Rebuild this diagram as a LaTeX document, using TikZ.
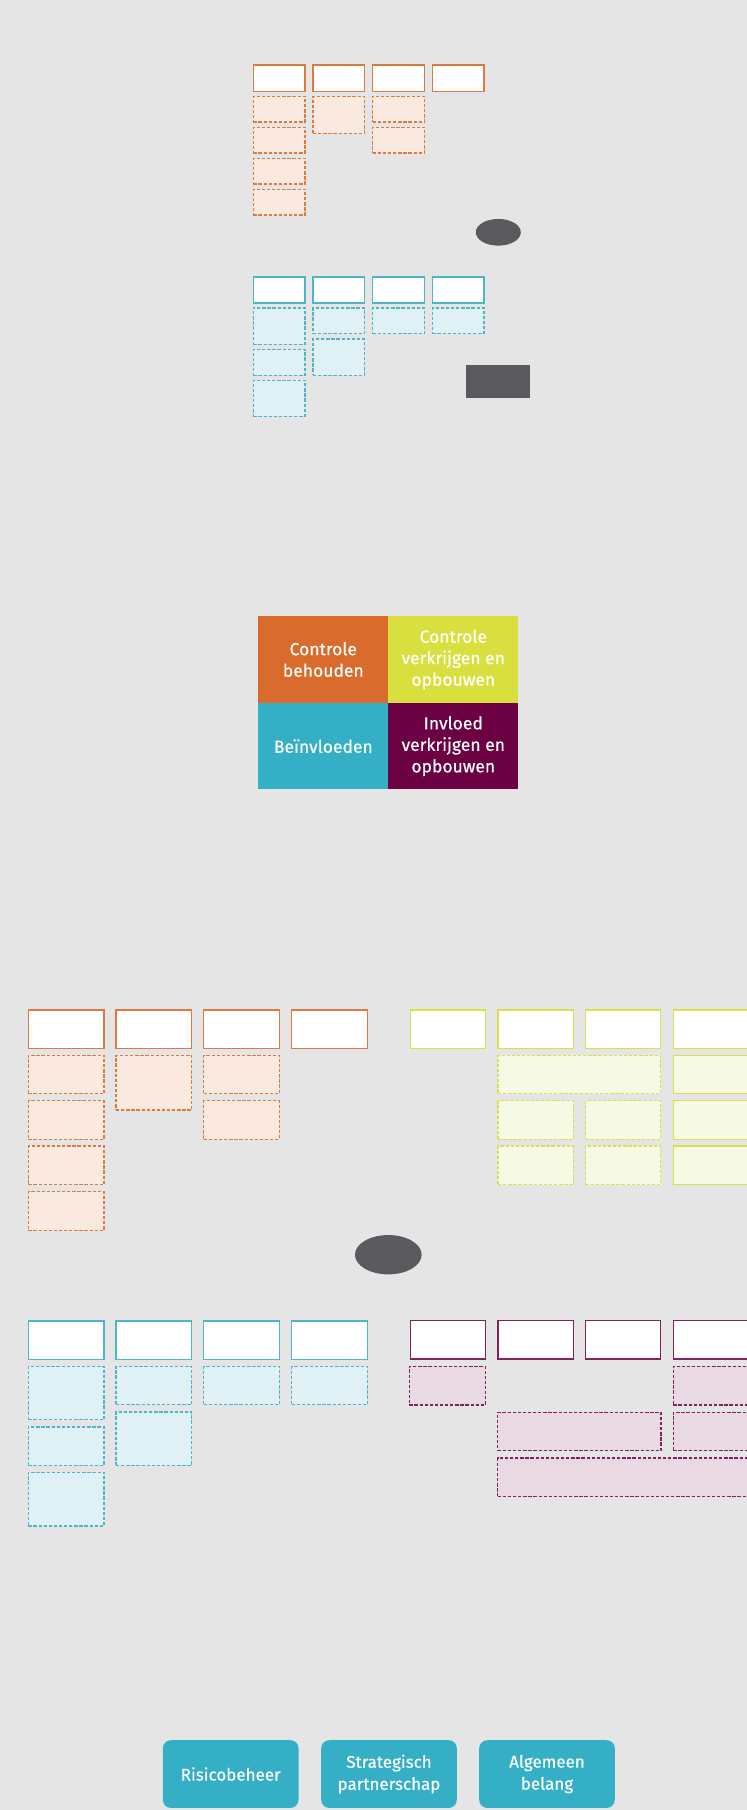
\documentclass[tikz,border=0pt]{standalone}
\usepackage{fontspec}
\setmainfont{Fira Sans}
\newfontfamily\labelfont[FakeBold=0.35]{Fira Sans}
\usetikzlibrary{shapes.geometric}
\definecolor{bg}{HTML}{E5E5E5}
\definecolor{cor}{HTML}{D96C2D}
\definecolor{corb}{HTML}{DD7A40}
\definecolor{corl}{HTML}{FAE9DF}
\definecolor{cte}{HTML}{35AFC5}
\definecolor{cteb}{HTML}{4BB6CA}
\definecolor{ctel}{HTML}{E0F1F5}
\definecolor{cye}{HTML}{D9DF3F}
\definecolor{cyeb}{HTML}{DADF4A}
\definecolor{cyel}{HTML}{F6F9E3}
\definecolor{cpu}{HTML}{6B0043}
\definecolor{cpub}{HTML}{852060}
\definecolor{cpul}{HTML}{E8D9E2}
\definecolor{cgr}{HTML}{5A5A5E}
\tikzset{
  base/.style={rectangle, inner sep=0pt, outer sep=0pt, anchor=north west},
  topbox/.style={base, fill=white, draw=#1, line width=1.5pt},
  dashbox/.style={base, fill=#1l, draw=#1b, line width=1.3pt, dash pattern=on 3.3pt off 1.8pt},
  solidlight/.style={base, fill=#1l, draw=#1b, line width=1.5pt},
  quad/.style={rectangle, inner sep=0pt, outer sep=0pt, anchor=north west, text=white,
    align=center, font=\labelfont\fontsize{17.5}{21.5}\selectfont},
  btn/.style={rectangle, rounded corners=8pt, fill=cte, inner sep=0pt, anchor=north west,
    text=white, align=center, font=\labelfont\fontsize{17}{22}\selectfont},
  blob/.style={ellipse, fill=cgr, inner sep=0pt},
}
\newcommand\bx[6]{\node[#2, minimum width={#5-#3}, minimum height={#6-#4}] (#1) at (#3,#4) {};}
\begin{document}
\begin{tikzpicture}[x=1pt,y=-1pt]
\useasboundingbox (0,0) rectangle (747,1810);
\clip (0,0) rectangle (747,1810);
\fill[bg] (0,0) rectangle (747,1810);
% ---------- top small section: orange ----------
\bx{so1}{topbox=corb}{253.3}{65}{305}{91.7}
\bx{so2}{topbox=corb}{313}{65}{364.3}{91.7}
\bx{so3}{topbox=corb}{372.7}{65}{424.3}{91.7}
\bx{so4}{topbox=corb}{432.3}{65}{484}{91.7}
\bx{so1a}{dashbox=cor}{253.3}{96.3}{305}{122}
\bx{so1b}{dashbox=cor}{253.3}{127.3}{305}{153}
\bx{so1c}{dashbox=cor}{253.3}{158.3}{305}{184}
\bx{so1d}{dashbox=cor}{253.3}{189.3}{305}{215}
\bx{so2a}{dashbox=cor}{313}{96.3}{364.3}{133.3}
\bx{so3a}{dashbox=cor}{372.7}{96.3}{424.3}{122}
\bx{so3b}{dashbox=cor}{372.7}{127.3}{424.3}{153}
\node[blob, minimum width=45pt, minimum height=26.7pt] (sblob) at (498.3,232.3) {};
% ---------- top small section: teal ----------
\bx{st1}{topbox=cteb}{253.3}{277}{305}{303}
\bx{st2}{topbox=cteb}{313}{277}{364.3}{303}
\bx{st3}{topbox=cteb}{372.7}{277}{424.3}{303}
\bx{st4}{topbox=cteb}{432.3}{277}{484}{303}
\bx{st1a}{dashbox=cte}{253.3}{308}{305}{344.3}
\bx{st1b}{dashbox=cte}{253.3}{349.3}{305}{375.3}
\bx{st1c}{dashbox=cte}{253.3}{380.3}{305}{416.3}
\bx{st2a}{dashbox=cte}{313}{308}{364.3}{333.7}
\bx{st2b}{dashbox=cte}{313}{339}{364.3}{375.3}
\bx{st3a}{dashbox=cte}{372.7}{308}{424.3}{333.7}
\bx{st4a}{dashbox=cte}{432.3}{308}{484}{333.7}
\node[base, fill=cgr, minimum width=64pt, minimum height=32.7pt] (srect) at (466.3,365.3) {};
% ---------- quadrant ----------
\node[quad, fill=cor, minimum width=130pt, minimum height=87pt] (q1) at (258.3,616) {Controle\\behouden};
\node[quad, fill=cye, minimum width=130pt, minimum height=87pt] (q2) at (388.3,616) {Controle\\verkrijgen en\\opbouwen};
\node[quad, fill=cte, minimum width=130pt, minimum height=86.3pt] (q3) at (258.3,703) {Beïnvloeden};
\node[quad, fill=cpu, minimum width=130pt, minimum height=86.3pt] (q4) at (388.3,703) {Invloed\\verkrijgen en\\opbouwen};
% ---------- large section: orange ----------
\bx{o1}{topbox=corb}{28.3}{1010}{104}{1048.3}
\bx{o2}{topbox=corb}{116}{1010}{191.7}{1048.3}
\bx{o3}{topbox=corb}{203.7}{1010}{279.3}{1048.3}
\bx{o4}{topbox=corb}{291.7}{1010}{367.3}{1048.3}
\bx{o1a}{dashbox=cor}{28.3}{1055.3}{104}{1093.7}
\bx{o1b}{dashbox=cor}{28.3}{1100.7}{104}{1139.3}
\bx{o1c}{dashbox=cor}{28.3}{1146}{104}{1184.7}
\bx{o1d}{dashbox=cor}{28.3}{1191.7}{104}{1230.3}
\bx{o2a}{dashbox=cor}{116}{1055.3}{191.7}{1110}
\bx{o3a}{dashbox=cor}{203.7}{1055.3}{279.3}{1093.7}
\bx{o3b}{dashbox=cor}{203.7}{1100.7}{279.3}{1139.3}
% ---------- large section: yellow ----------
\bx{y1}{topbox=cyeb}{410.3}{1010}{485.7}{1048.3}
\bx{y2}{topbox=cyeb}{498}{1010}{573.3}{1048.3}
\bx{y3}{topbox=cyeb}{585.7}{1010}{660.7}{1048.3}
\bx{y4}{topbox=cyeb}{673.3}{1010}{749}{1048.3}
\bx{y23a}{dashbox=cye}{498}{1055.3}{660.7}{1093.7}
\bx{y2b}{dashbox=cye}{498}{1100.7}{573.3}{1139.3}
\bx{y2c}{dashbox=cye}{498}{1146}{573.3}{1184.7}
\bx{y3b}{dashbox=cye}{585.7}{1100.7}{660.7}{1139.3}
\bx{y3c}{dashbox=cye}{585.7}{1146}{660.7}{1184.7}
\bx{y4a}{solidlight=cye}{673.3}{1055.3}{749}{1093.7}
\bx{y4b}{solidlight=cye}{673.3}{1100.7}{749}{1139.3}
\bx{y4c}{solidlight=cye}{673.3}{1146}{749}{1184.7}
% ---------- middle blob ----------
\node[blob, minimum width=66.7pt, minimum height=39.3pt] (blob) at (388.3,1254.7) {};
% ---------- large section: teal ----------
\bx{t1}{topbox=cteb}{28.3}{1321}{104}{1359.3}
\bx{t2}{topbox=cteb}{116}{1321}{191.7}{1359.3}
\bx{t3}{topbox=cteb}{203.7}{1321}{279.3}{1359.3}
\bx{t4}{topbox=cteb}{291.7}{1321}{367.3}{1359.3}
\bx{t1a}{dashbox=cte}{28.3}{1366.3}{104}{1419.7}
\bx{t1b}{dashbox=cte}{28.3}{1427}{104}{1465.3}
\bx{t1c}{dashbox=cte}{28.3}{1472.3}{104}{1526}
\bx{t2a}{dashbox=cte}{116}{1366.3}{191.7}{1404.7}
\bx{t2b}{dashbox=cte}{116}{1412}{191.7}{1465.3}
\bx{t3a}{dashbox=cte}{203.7}{1366.3}{279.3}{1404.7}
\bx{t4a}{dashbox=cte}{291.7}{1366.3}{367.3}{1404.7}
% ---------- large section: purple ----------
\bx{p1}{topbox=cpub}{410.3}{1320.7}{485.7}{1359}
\bx{p2}{topbox=cpub}{498}{1320.7}{573.3}{1359}
\bx{p3}{topbox=cpub}{585.7}{1320.7}{660.7}{1359}
\bx{p4}{topbox=cpub}{673.3}{1320.7}{749}{1359}
\bx{p1a}{dashbox=cpu}{409.3}{1366.3}{485.3}{1405}
\bx{p4a}{dashbox=cpu}{673.3}{1366.3}{749}{1405}
\bx{p23b}{dashbox=cpu}{497.7}{1412.3}{661}{1450.7}
\bx{p4b}{dashbox=cpu}{673.3}{1412.3}{749}{1450.7}
\bx{p24c}{dashbox=cpu}{497.7}{1458}{749}{1496.3}
% ---------- buttons ----------
\node[btn, minimum width=135.6pt, minimum height=67.7pt] (b1) at (162.7,1740) {Risicobeheer};
\node[btn, minimum width=135.6pt, minimum height=67.7pt] (b2) at (321,1740) {Strategisch\\partnerschap};
\node[btn, minimum width=135.6pt, minimum height=67.7pt] (b3) at (479,1740) {Algemeen\\belang};
\end{tikzpicture}
\end{document}
